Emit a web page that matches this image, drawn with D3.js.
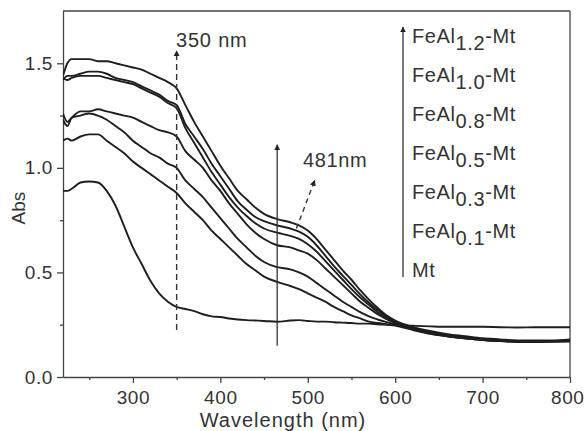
<!DOCTYPE html>
<html>
<head>
<meta charset="utf-8">
<script src="https://cdn.jsdelivr.net/npm/d3@7"></script>
<style>
  body { margin: 0; background: #fff; }
  text { font-family: "Liberation Sans", Arial, sans-serif; fill: #333; }
</style>
</head>
<body>
<svg id="chart" width="585" height="431"></svg>
<script>
// wavelengths (nm)
const wavelengths = [220,225,230,240,250,260,270,280,290,300,310,320,330,340,350,360,370,380,390,400,
  410,420,430,440,450,465,480,490,500,510,520,530,540,550,560,570,580,590,600,620,640,660,680,700,
  720,740,760,780,800];

const feal12 = [1.44,1.50,1.52,1.52,1.52,1.51,1.51,1.50,1.49,1.48,1.47,1.45,1.43,1.41,1.38,1.30,1.22,1.15,1.08,1.01,
  0.95,0.89,0.85,0.81,0.78,0.755,0.74,0.725,0.70,0.66,0.61,0.56,0.51,0.465,0.415,0.37,0.33,0.295,0.27,0.24,0.22,0.205,0.195,0.185,
  0.18,0.175,0.175,0.175,0.18];
const feal10 = [1.42,1.44,1.44,1.45,1.46,1.46,1.45,1.43,1.42,1.41,1.39,1.37,1.35,1.32,1.30,1.21,1.15,1.09,1.02,0.96,
  0.90,0.84,0.80,0.765,0.745,0.725,0.71,0.695,0.67,0.63,0.58,0.53,0.485,0.44,0.395,0.355,0.32,0.29,0.265,0.235,0.215,0.20,0.19,0.18,
  0.175,0.17,0.17,0.172,0.175];
const feal08 = [1.43,1.42,1.43,1.44,1.44,1.44,1.43,1.42,1.41,1.40,1.38,1.36,1.34,1.31,1.285,1.19,1.12,1.05,0.98,0.92,
  0.86,0.81,0.77,0.735,0.71,0.69,0.675,0.66,0.635,0.60,0.555,0.51,0.465,0.42,0.38,0.345,0.31,0.285,0.262,0.233,0.213,0.198,0.188,0.178,
  0.173,0.17,0.168,0.17,0.172];
const feal05 = [1.26,1.22,1.24,1.27,1.27,1.28,1.27,1.26,1.25,1.24,1.22,1.20,1.18,1.17,1.15,1.08,1.04,1.00,0.94,0.89,
  0.83,0.78,0.73,0.69,0.66,0.63,0.62,0.605,0.59,0.56,0.52,0.48,0.44,0.40,0.36,0.33,0.30,0.277,0.258,0.23,0.21,0.195,0.185,0.177,
  0.172,0.168,0.168,0.17,0.172];
const feal03 = [1.23,1.20,1.24,1.25,1.26,1.25,1.23,1.20,1.17,1.13,1.10,1.07,1.05,1.02,1.00,0.94,0.90,0.86,0.81,0.76,
  0.71,0.66,0.62,0.58,0.55,0.525,0.515,0.50,0.48,0.45,0.42,0.39,0.36,0.335,0.31,0.29,0.275,0.262,0.252,0.228,0.208,0.195,0.185,0.177,
  0.172,0.17,0.168,0.17,0.17];
const feal01 = [1.13,1.14,1.13,1.15,1.16,1.16,1.13,1.10,1.07,1.03,1.00,0.97,0.94,0.91,0.88,0.83,0.79,0.75,0.70,0.66,
  0.62,0.58,0.54,0.51,0.48,0.455,0.435,0.42,0.40,0.38,0.36,0.335,0.315,0.295,0.28,0.265,0.258,0.252,0.246,0.225,0.207,0.195,0.185,0.178,
  0.174,0.17,0.17,0.172,0.173];
const mt = [0.89,0.89,0.90,0.93,0.935,0.93,0.89,0.82,0.72,0.62,0.54,0.46,0.40,0.36,0.335,0.325,0.315,0.30,0.29,0.287,
  0.28,0.275,0.272,0.27,0.268,0.264,0.27,0.272,0.268,0.265,0.265,0.262,0.26,0.258,0.255,0.255,0.252,0.25,0.248,0.245,0.242,0.24,0.24,0.24,
  0.238,0.237,0.238,0.238,0.238];

const seriesList = [feal12, feal10, feal08, feal05, feal03, feal01, mt];

// legend entries: base, subscript
const legendBase = ["FeAl", "FeAl", "FeAl", "FeAl", "FeAl", "FeAl", "Mt"];
const legendSub = ["1.2", "1.0", "0.8", "0.5", "0.3", "0.1", ""];

const xTicks = [300, 400, 500, 600, 700, 800];
const xMinor = [250, 350, 450, 550, 650, 750];
const yTicks = [0.0, 0.5, 1.0, 1.5];
const yMinor = [0.25, 0.75, 1.25];

const margin = {left: 63, top: 11, right: 15, bottom: 54};
const W = 585, H = 431;
const svg = d3.select("#chart");

const x = d3.scaleLinear().domain([220, 800]).range([margin.left, W - margin.right]);
const y = d3.scaleLinear().domain([0, 1.75]).range([H - margin.bottom, margin.top]);

const axisColor = "#444";

// frame top & right
svg.append("line").attr("x1", x(220)).attr("x2", x(800)).attr("y1", y(1.75)).attr("y2", y(1.75))
  .attr("stroke", axisColor).attr("stroke-width", 1.3);
svg.append("line").attr("x1", x(800)).attr("x2", x(800)).attr("y1", y(0)).attr("y2", y(1.75))
  .attr("stroke", axisColor).attr("stroke-width", 1.3);

// x axis
const xAxisG = svg.append("g").attr("transform", `translate(0,${y(0)})`)
  .call(d3.axisBottom(x).tickValues(xTicks).tickFormat(d3.format("d")).tickSize(6).tickPadding(8).tickSizeOuter(0));
svg.append("g").attr("transform", `translate(0,${y(0)})`)
  .call(d3.axisBottom(x).tickValues(xMinor).tickFormat("").tickSize(3).tickSizeOuter(0))
  .select(".domain").remove();

// y axis
svg.append("g").attr("transform", `translate(${x(220)},0)`)
  .call(d3.axisLeft(y).tickValues(yTicks).tickFormat(d3.format(".1f")).tickSize(6).tickPadding(4).tickSizeOuter(0));
svg.append("g").attr("transform", `translate(${x(220)},0)`)
  .call(d3.axisLeft(y).tickValues(yMinor).tickFormat("").tickSize(3).tickSizeOuter(0))
  .select(".domain").remove();

svg.selectAll(".domain, .tick line").attr("stroke", axisColor).attr("stroke-width", 1.3);
svg.selectAll(".tick text").attr("font-size", 19).attr("fill", "#333")
  .attr("letter-spacing", 0.6)
  .style("font-family", "'Liberation Sans', Arial, sans-serif");

// keep the last x label inside the window
xAxisG.selectAll(".tick text").filter(d => d === 800)
  .attr("text-anchor", "end").attr("x", W - 1 - x(800));

// axis titles
svg.append("text").attr("x", 283).attr("y", 427).attr("text-anchor", "middle")
  .attr("font-size", 20).attr("letter-spacing", 1).text("Wavelength (nm)");
svg.append("text").attr("transform", "translate(25,208) rotate(-90)").attr("text-anchor", "middle")
  .attr("font-size", 19).text("Abs");

// markers
const defs = svg.append("defs");
defs.append("marker").attr("id", "arrow").attr("viewBox", "0 0 10 10")
  .attr("refX", 9).attr("refY", 5).attr("markerWidth", 6).attr("markerHeight", 9)
  .attr("markerUnits", "userSpaceOnUse").attr("orient", "auto")
  .append("path").attr("d", "M0,0 L10,5 L0,10 Z").attr("fill", "#222");
defs.append("clipPath").attr("id", "clip").append("rect")
  .attr("x", x(220)).attr("y", y(1.75)).attr("width", x(800) - x(220)).attr("height", y(0) - y(1.75));

// curves
const line = d3.line()
  .x((d, i) => x(wavelengths[i]))
  .y(d => y(d))
  .curve(d3.curveMonotoneX);

svg.append("g").attr("clip-path", "url(#clip)")
  .selectAll("path")
  .data(seriesList)
  .enter()
  .append("path")
  .attr("d", line)
  .attr("fill", "none")
  .attr("stroke", "#1e1e1e")
  .attr("stroke-width", 1.9)
  .attr("stroke-linejoin", "round");

// 350 nm dashed arrow
svg.append("line").attr("x1", x(350)).attr("x2", x(350)).attr("y1", y(0.225)).attr("y2", y(1.56))
  .attr("stroke", "#333").attr("stroke-width", 1.4).attr("stroke-dasharray", "6,4")
  .attr("marker-end", "url(#arrow)");
svg.append("text").attr("x", 176).attr("y", 47).attr("font-size", 20).attr("letter-spacing", 0.8).text("350 nm");

// solid arrow at ~465 nm
svg.append("line").attr("x1", x(465)).attr("x2", x(465)).attr("y1", y(0.15)).attr("y2", y(1.11))
  .attr("stroke", "#333").attr("stroke-width", 1.3).attr("marker-end", "url(#arrow)");

// 481 nm dashed arrow
svg.append("line").attr("x1", x(487)).attr("x2", x(508)).attr("y1", y(0.71)).attr("y2", y(0.94))
  .attr("stroke", "#333").attr("stroke-width", 1.4).attr("stroke-dasharray", "5,4")
  .attr("marker-end", "url(#arrow)");
svg.append("text").attr("x", 303).attr("y", 167).attr("font-size", 20).attr("letter-spacing", 0.6).text("481nm");

// legend arrow and labels
const legX = 403;
svg.append("line").attr("x1", legX).attr("x2", legX).attr("y1", 277).attr("y2", 27)
  .attr("stroke", "#333").attr("stroke-width", 1.3).attr("marker-end", "url(#arrow)");

const leg = svg.append("g");
legendBase.forEach((b, i) => {
  const t = leg.append("text").attr("x", 412).attr("y", 43 + i * 39)
    .attr("font-size", 20).attr("letter-spacing", 0.6);
  t.append("tspan").text(b);
  if (legendSub[i]) {
    t.append("tspan").attr("dy", 7).text(legendSub[i]);
    t.append("tspan").attr("dy", -7).text("-Mt");
  }
});
</script>
</body>
</html>
